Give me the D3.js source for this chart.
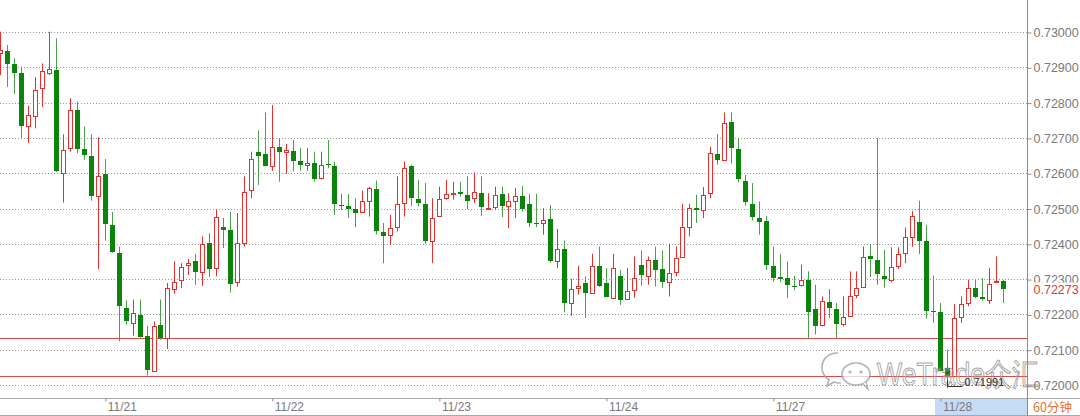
<!DOCTYPE html>
<html><head><meta charset="utf-8">
<script src="https://cdn.jsdelivr.net/npm/d3@7"></script>
<style>body{margin:0;background:#fff}svg{display:block}</style>
</head><body><svg id="c" width="1080" height="416"></svg>
<script>
// ---- data ----
const openP = [0.72940,0.72946,0.72909,0.72883,0.72734,0.72763,0.72841,0.72885,0.72892,0.72600,
0.72671,0.72779,0.72668,0.72649,0.72534,0.72598,0.72454,0.72375,0.72218,0.72177,
0.72199,0.72138,0.72039,0.72169,0.72133,0.72272,0.72298,0.72339,0.72350,0.72319,
0.72402,0.72331,0.72447,0.72440,0.72291,0.72402,0.72553,0.72661,0.72655,0.72621,
0.72674,0.72660,0.72664,0.72635,0.72622,0.72630,0.72586,0.72626,0.72619,0.72510,
0.72508,0.72498,0.72489,0.72520,0.72555,0.72433,0.72424,0.72447,0.72515,0.72620,
0.72527,0.72512,0.72409,0.72479,0.72529,0.72543,0.72548,0.72539,0.72529,0.72543,
0.72499,0.72504,0.72541,0.72506,0.72520,0.72536,0.72513,0.72460,0.72460,0.72470,
0.72352,0.72386,0.72232,0.72275,0.72289,0.72262,0.72336,0.72289,0.72246,0.72309,
0.72244,0.72270,0.72341,0.72308,0.72353,0.72328,0.72293,0.72319,0.72364,0.72449,
0.72501,0.72496,0.72543,0.72655,0.72636,0.72746,0.72668,0.72579,0.72512,0.72473,
0.72466,0.72338,0.72305,0.72303,0.72281,0.72284,0.72298,0.72216,0.72171,0.72235,
0.72216,0.72174,0.72196,0.72256,0.72278,0.72366,0.72353,0.72308,0.72298,0.72336,
0.72374,0.72418,0.72461,0.72407,0.72210,0.72207,0.72048,0.72025,0.72194,0.72232,
0.72275,0.72248,0.72242,0.72292,0.72295];
const highP = [0.73001,0.72963,0.72926,0.72902,0.72791,0.72872,0.72911,0.73001,0.72982,0.72710,
0.72812,0.72803,0.72732,0.72710,0.72702,0.72640,0.72490,0.72392,0.72240,0.72242,
0.72242,0.72168,0.72180,0.72242,0.72289,0.72350,0.72345,0.72357,0.72372,0.72421,
0.72430,0.72496,0.72473,0.72491,0.72487,0.72591,0.72661,0.72721,0.72772,0.72793,
0.72699,0.72683,0.72694,0.72671,0.72671,0.72661,0.72661,0.72694,0.72633,0.72542,
0.72541,0.72529,0.72551,0.72561,0.72579,0.72459,0.72482,0.72591,0.72633,0.72624,
0.72581,0.72572,0.72529,0.72562,0.72581,0.72576,0.72576,0.72591,0.72602,0.72591,
0.72543,0.72562,0.72562,0.72543,0.72558,0.72564,0.72542,0.72542,0.72501,0.72510,
0.72442,0.72409,0.72300,0.72338,0.72308,0.72372,0.72392,0.72331,0.72372,0.72326,
0.72331,0.72364,0.72381,0.72364,0.72392,0.72381,0.72400,0.72392,0.72513,0.72513,
0.72539,0.72561,0.72675,0.72711,0.72772,0.72772,0.72699,0.72595,0.72572,0.72520,
0.72479,0.72392,0.72372,0.72350,0.72309,0.72341,0.72322,0.72284,0.72251,0.72272,
0.72232,0.72251,0.72322,0.72322,0.72392,0.72400,0.72699,0.72383,0.72390,0.72390,
0.72446,0.72493,0.72522,0.72454,0.72310,0.72232,0.72100,0.72229,0.72251,0.72298,
0.72298,0.72303,0.72331,0.72364,0.72298];
const lowP = [0.72878,0.72845,0.72825,0.72699,0.72685,0.72727,0.72787,0.72878,0.72603,0.72517,
0.72661,0.72657,0.72638,0.72522,0.72328,0.72409,0.72375,0.72124,0.72171,0.72140,
0.72134,0.72027,0.72037,0.72128,0.72102,0.72259,0.72275,0.72312,0.72284,0.72281,
0.72306,0.72308,0.72388,0.72262,0.72278,0.72392,0.72529,0.72567,0.72619,0.72607,
0.72576,0.72598,0.72605,0.72607,0.72607,0.72576,0.72582,0.72614,0.72482,0.72496,
0.72473,0.72447,0.72487,0.72477,0.72426,0.72345,0.72397,0.72435,0.72477,0.72508,
0.72506,0.72400,0.72345,0.72477,0.72525,0.72525,0.72534,0.72498,0.72515,0.72479,
0.72496,0.72496,0.72476,0.72444,0.72473,0.72491,0.72447,0.72447,0.72426,0.72347,
0.72331,0.72206,0.72196,0.72256,0.72190,0.72262,0.72278,0.72249,0.72246,0.72227,
0.72242,0.72247,0.72281,0.72284,0.72279,0.72275,0.72251,0.72308,0.72364,0.72421,
0.72459,0.72473,0.72529,0.72624,0.72636,0.72628,0.72574,0.72508,0.72466,0.72426,
0.72326,0.72293,0.72291,0.72246,0.72268,0.72279,0.72130,0.72143,0.72166,0.72190,
0.72133,0.72166,0.72196,0.72246,0.72275,0.72306,0.72284,0.72276,0.72292,0.72329,
0.72345,0.72392,0.72371,0.72188,0.72176,0.72038,0.71991,0.72025,0.72176,0.72223,
0.72246,0.72239,0.72229,0.72292,0.72232];
const closeP = [0.72949,0.72909,0.72883,0.72735,0.72765,0.72836,0.72890,0.72894,0.72605,0.72666,
0.72779,0.72668,0.72652,0.72534,0.72593,0.72457,0.72377,0.72225,0.72180,0.72204,
0.72136,0.72042,0.72166,0.72133,0.72275,0.72291,0.72334,0.72347,0.72319,0.72400,
0.72328,0.72476,0.72440,0.72287,0.72402,0.72548,0.72640,0.72649,0.72621,0.72674,
0.72660,0.72666,0.72635,0.72622,0.72630,0.72584,0.72622,0.72622,0.72513,0.72508,
0.72499,0.72487,0.72520,0.72558,0.72435,0.72421,0.72444,0.72512,0.72614,0.72529,
0.72515,0.72409,0.72474,0.72527,0.72541,0.72545,0.72542,0.72522,0.72546,0.72504,
0.72501,0.72538,0.72506,0.72520,0.72536,0.72498,0.72460,0.72457,0.72468,0.72350,
0.72386,0.72232,0.72272,0.72281,0.72261,0.72336,0.72281,0.72249,0.72331,0.72242,
0.72265,0.72303,0.72312,0.72353,0.72325,0.72291,0.72317,0.72360,0.72449,0.72501,
0.72496,0.72537,0.72658,0.72636,0.72743,0.72671,0.72583,0.72517,0.72477,0.72463,
0.72341,0.72303,0.72300,0.72284,0.72278,0.72298,0.72206,0.72166,0.72237,0.72218,
0.72174,0.72194,0.72253,0.72275,0.72364,0.72357,0.72315,0.72301,0.72333,0.72371,
0.72418,0.72480,0.72407,0.72210,0.72207,0.72039,0.72025,0.72191,0.72229,0.72275,
0.72248,0.72244,0.72286,0.72295,0.72273];
const dayLabels = ["11/21","11/22","11/23","11/24","11/27","11/28"];
const dayStartIndex = [15,39,63,87,111,135];
const priceTicks = [0.720,0.721,0.722,0.723,0.724,0.725,0.726,0.727,0.728,0.729,0.730];
const markLines = [0.72134,0.72026];
const lastPrice = 0.72273;
const lowIndex = 136, lowValue = 0.71991;
const periodLabel = "60分钟";
const watermark = "WeTrade众汇";

// ---- layout ----
const W = 1080, H = 416, plotR = 1027, plotB = 398;
const UP = "#e3312d", DOWN = "#0b840b", DOWNWICK = "#4a9f4a", GRID = "#9a9a9a", AX = "#8c8c8c", TXT = "#7a7a7a";
const svg = d3.select("#c");
const n = openP.length;
const x = d3.scaleLinear().domain([0, n - 1]).range([0.4, 0.4 + 6.96 * (n - 1)]);
const y = d3.scaleLinear().domain([0.720, 0.730]).range([385, 32]);
const px = v => Math.round(v) + 0.5;

svg.append("defs").append("clipPath").attr("id", "plot")
  .append("rect").attr("x", 0).attr("y", 0).attr("width", plotR).attr("height", plotB);

// grid
svg.append("g").selectAll("line").data(priceTicks).join("line")
  .attr("x1", 0).attr("x2", plotR).attr("y1", d => px(y(d))).attr("y2", d => px(y(d)))
  .attr("stroke", GRID).attr("stroke-dasharray", "1,2").attr("stroke-width", 1);

// mark lines
svg.append("g").selectAll("line").data(markLines).join("line")
  .attr("x1", 0).attr("x2", plotR).attr("y1", d => px(y(d))).attr("y2", d => px(y(d)))
  .attr("stroke", "#e04848").attr("stroke-width", 1);

// candles
const candles = d3.range(n).map(i => ({i, o: openP[i], h: highP[i], l: lowP[i], c: closeP[i], up: closeP[i] >= openP[i]}));
const cg = svg.append("g").attr("clip-path", "url(#plot)");
cg.selectAll("line.w").data(candles).join("line").attr("class", "w")
  .attr("x1", d => px(x(d.i))).attr("x2", d => px(x(d.i)))
  .attr("y1", d => y(d.h)).attr("y2", d => y(d.l))
  .attr("stroke", d => d.up ? UP : DOWNWICK).attr("stroke-width", 1);
cg.selectAll("rect.b").data(candles).join("rect").attr("class", "b")
  .attr("x", d => d.up ? Math.round(x(d.i)) - 1.5 : Math.round(x(d.i)) - 2)
  .attr("width", d => d.up ? 4 : 5)
  .attr("y", d => {
    const t = y(Math.max(d.o, d.c));
    return d.up ? Math.round(t) + 0.5 : Math.round(t);
  })
  .attr("height", d => {
    const t = Math.round(y(Math.max(d.o, d.c))), b = Math.round(y(Math.min(d.o, d.c)));
    return Math.max(1, b - t);
  })
  .attr("fill", d => d.up ? "#fff" : DOWN)
  .attr("stroke", d => d.up ? UP : "none").attr("stroke-width", 1);

// watermark (drawn under the labels)
const wm = svg.append("g").attr("opacity", 0.75);
wm.append("path").attr("d", "M838,353 C826,353 822,361 822,368 C822,373 825,377 829,380 L827,386 L834,382 C836,383 839,383 841,383")
  .attr("fill", "none").attr("stroke", "#9a9a9a").attr("stroke-width", 1.6);
wm.append("ellipse").attr("cx", 856).attr("cy", 374).attr("rx", 14).attr("ry", 11).attr("fill", "#fff").attr("stroke", "#9a9a9a").attr("stroke-width", 1.6);
wm.append("path").attr("d", "M863,384 L868,389 L866,382").attr("fill", "#fff").attr("stroke", "#9a9a9a").attr("stroke-width", 1.4);
[[850, 372], [861, 372]].forEach(([a, b]) => wm.append("circle").attr("cx", a).attr("cy", b).attr("r", 1.6).attr("fill", "#9a9a9a"));
wm.append("text").attr("transform", "translate(877,385) scale(0.86,1)").attr("font-family", "Liberation Sans, Arial, sans-serif")
  .attr("font-size", 31)
  .attr("fill", "#fff").attr("fill-opacity", 0.3).attr("stroke", "#8a8a8a").attr("stroke-width", 1)
  .text(watermark);

// low marker
const lx = px(x(lowIndex)), ly = px(y(lowValue)) - 2;
svg.append("path").attr("d", `M${lx},${ly - 6}V${ly}H${lx + 15}`).attr("fill", "none").attr("stroke", "#333").attr("stroke-width", 1);
svg.append("text").attr("x", lx + 17).attr("y", ly - 1).attr("font-family", "Liberation Sans, Arial, sans-serif")
  .attr("font-size", 11).attr("fill", "#333").text(d3.format(".5f")(lowValue));

// right axis
svg.append("line").attr("x1", plotR + 0.5).attr("x2", plotR + 0.5).attr("y1", 0).attr("y2", H).attr("stroke", AX);
const ra = svg.append("g").attr("transform", `translate(${plotR + 0.5},0.5)`)
  .call(d3.axisRight(y).tickValues(priceTicks).tickFormat(d3.format(".5f")).tickSize(4).tickPadding(2));
ra.select(".domain").remove();
ra.selectAll(".tick line").attr("stroke", AX);
ra.selectAll(".tick text").attr("fill", TXT).attr("font-size", 12.5).attr("font-family", "Liberation Sans, Arial, sans-serif");

// last price label
const lpY = y(lastPrice);
svg.append("rect").attr("x", plotR + 2).attr("y", lpY - 6).attr("width", 51).attr("height", 13).attr("fill", "#fff");
svg.append("text").attr("x", plotR + 6.5).attr("y", lpY + 1).attr("dy", "0.35em")
  .attr("font-family", "Liberation Sans, Arial, sans-serif").attr("font-size", 12.5).attr("fill", "#e03a3a").text(d3.format(".5f")(lastPrice));

// bottom axis
svg.append("rect").attr("x", 0).attr("y", plotB).attr("width", W).attr("height", H - plotB).attr("fill", "#fff");
const lastDayX = x(dayStartIndex[dayStartIndex.length - 1]) - 5;
svg.append("rect").attr("x", lastDayX).attr("y", plotB + 1).attr("width", plotR - lastDayX).attr("height", H - plotB - 2).attr("fill", "#c6dcf4");
svg.append("line").attr("x1", 0).attr("x2", W).attr("y1", plotB + 0.5).attr("y2", plotB + 0.5).attr("stroke", "#a8a8a8");
svg.append("line").attr("x1", 0).attr("x2", W).attr("y1", H - 0.5).attr("y2", H - 0.5).attr("stroke", "#a8a8a8");
svg.append("line").attr("x1", plotR + 0.5).attr("x2", plotR + 0.5).attr("y1", plotB).attr("y2", H).attr("stroke", AX);
const ba = svg.append("g").attr("transform", `translate(0.5,${plotB + 0.5})`)
  .call(d3.axisBottom(x).tickValues(dayStartIndex).tickFormat((d, i) => dayLabels[i]).tickSize(3).tickPadding(1));
ba.select(".domain").remove();
ba.selectAll(".tick line").attr("stroke", AX);
ba.selectAll(".tick text").attr("text-anchor", "start").attr("dx", 2).attr("fill", TXT)
  .attr("font-size", 12).attr("font-family", "Liberation Sans, Arial, sans-serif");
svg.append("text").attr("x", plotR + 6).attr("y", H - 4).attr("font-family", "Noto Sans CJK SC, sans-serif")
  .attr("font-size", 12.5).attr("fill", "#e8702a").text(periodLabel);
</script></body></html>
